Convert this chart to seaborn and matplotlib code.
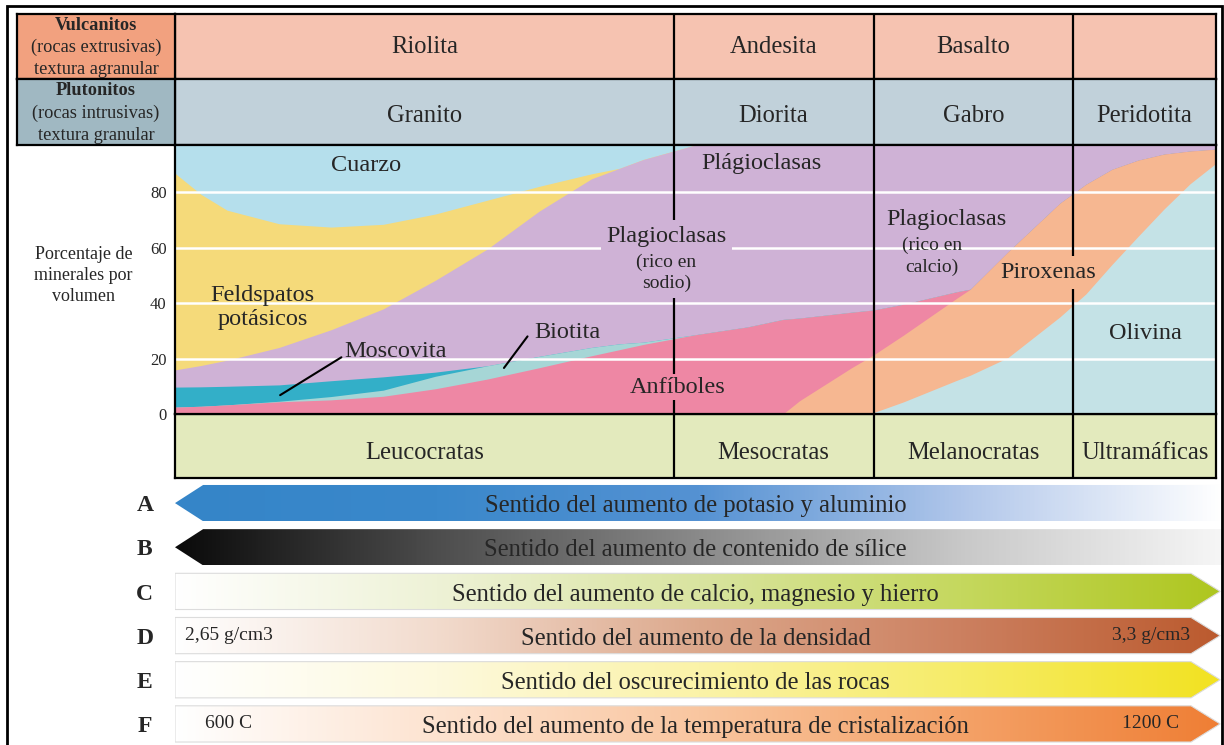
import numpy as np
import matplotlib.pyplot as plt
import seaborn as sns
from matplotlib.patches import Polygon, Rectangle

# posición a lo largo del diagrama (0 = izquierda, 100 = derecha)
posicion = [0, 2.5, 5, 10, 15, 20, 25, 30, 35, 40, 42.7, 45, 50, 55, 58.4,
            60, 65, 67.1, 70, 75, 76.4, 80, 85, 87.5, 90, 92.5, 95, 97.5, 100]

# límite superior acumulado (% en volumen) de cada mineral, de abajo arriba
olivina = [0, 0, 0, 0, 0, 0, 0, 0, 0, 0, 0, 0, 0, 0, 0,
           0, 0, 0.5, 4.4, 12, 14, 20.3, 35, 43.3, 53.9, 64, 73.9, 83, 90.4]
piroxenas = [0, 0, 0, 0, 0, 0, 0, 0, 0, 0, 0, 0, 0, 0, 0,
             4.8, 16.7, 21.3, 28.5, 41.5, 45, 58.4, 76, 82.8, 88.2, 91.5, 93.7, 94.8, 95.5]
anfiboles = [2.5, 2.8, 3.3, 4.4, 5.1, 6.4, 9.1, 12.6, 16.7, 21, 23.2, 25.1, 28.6, 31.4, 34.1,
             34.6, 36.7, 37.5, 39.6, 44, 45, 58.4, 76, 82.8, 88.2, 91.5, 93.7, 94.8, 95.5]
biotita = [2.5, 2.8, 3.3, 4.6, 6.3, 8.6, 13.6, 17.4, 20.8, 24, 25.3, 25.9, 28.6, 31.4, 34.1,
           34.6, 36.7, 37.5, 39.6, 44, 45, 58.4, 76, 82.8, 88.2, 91.5, 93.7, 94.8, 95.5]
moscovita = [9.7, 9.8, 10, 10.5, 12, 13.4, 15.1, 17.4, 20.8, 24, 25.3, 25.9, 28.6, 31.4, 34.1,
             34.6, 36.7, 37.5, 39.6, 44, 45, 58.4, 76, 82.8, 88.2, 91.5, 93.7, 94.8, 95.5]
plagioclasas = [15.9, 17.5, 19.4, 24, 30.4, 37.9, 48.2, 59.5, 73.2, 84.8, 88.6, 91.8, 97, 97, 97,
                97, 97, 97, 97, 97, 97, 97, 97, 97, 97, 97, 97, 97, 97]
feldspatos = [86.8, 79.2, 73.5, 68.6, 67.4, 68.4, 72.1, 77.1, 82.1, 86.6, 88.6, 91.8, 97, 97, 97,
              97, 97, 97, 97, 97, 97, 97, 97, 97, 97, 97, 97, 97, 97]
cuarzo = [97, 97, 97, 97, 97, 97, 97, 97, 97, 97, 97, 97, 97, 97, 97,
          97, 97, 97, 97, 97, 97, 97, 97, 97, 97, 97, 97, 97, 97]

colores_min = ["#c4e2e6", "#f6b791", "#ee87a4", "#a6d6d6", "#33afc8",
               "#cfb2d6", "#f5da7a", "#b5dfec"]

# columnas de la tabla
limites = [0, 47.9, 67.1, 86.3, 100]
vulcanitos = ["Riolita", "Andesita", "Basalto", ""]
plutonitos = ["Granito", "Diorita", "Gabro", "Peridotita"]
clases = ["Leucocratas", "Mesocratas", "Melanocratas", "Ultramáficas"]
ticks_y = [0, 20, 40, 60, 80]

# flechas inferiores
letras = ["A", "B", "C", "D", "E", "F"]
textos_flecha = ["Sentido del aumento de potasio y aluminio",
                 "Sentido del aumento de contenido de sílice",
                 "Sentido del aumento de calcio, magnesio y hierro",
                 "Sentido del aumento de la densidad",
                 "Sentido del oscurecimiento de las rocas",
                 "Sentido del aumento de la temperatura de cristalización"]
sentidos = ["izq", "izq", "der", "der", "der", "der"]
degradados = [["#3585c8", "#3a88cb", "#5592d3", "#b0c6ea", "#ffffff"],
              ["#0a0a0a", "#4d4d4d", "#8a8a8a", "#c8c8c8", "#f6f6f6"],
              ["#ffffff", "#eef2d6", "#d9e4a0", "#c5d85e", "#aec61e"],
              ["#ffffff", "#f2dbcd", "#dca88c", "#cc8060", "#bb5a2e"],
              ["#ffffff", "#fdf9dd", "#fbf3a8", "#f6ec68", "#f2e220"],
              ["#ffffff", "#fde3d0", "#f9c6a0", "#f4a268", "#ef7e34"]]

sns.set_theme(style="white")
plt.rcParams['font.family'] = ['Liberation Serif', 'DejaVu Serif']
plt.rcParams['axes.linewidth'] = 1.6
plt.rcParams['axes.edgecolor'] = 'black'

W, H = 1224, 745
fig = plt.figure(figsize=(W / 100, H / 100), dpi=100)
fig.patch.set_facecolor('white')


def caja(x0, y0, x1, y1):
    return [x0 / W, 1 - y1 / H, (x1 - x0) / W, (y1 - y0) / H]


centros = [(a + b) / 2 for a, b in zip(limites[:-1], limites[1:])]


def fila(rect, nombres, color, ytxt):
    a = fig.add_axes(rect)
    a.set_facecolor(color)
    a.set_xlim(0, 100)
    a.set_ylim(0, 1)
    a.set_xticks([])
    a.set_yticks([])
    for b in limites[1:-1]:
        a.axvline(b, color='black', lw=1.6)
    for c, n in zip(centros, nombres):
        a.text(c, ytxt, n, ha='center', va='center', fontsize=17.7)
    return a


def celda(rect, color, lineas):
    a = fig.add_axes(rect)
    a.set_facecolor(color)
    a.set_xticks([])
    a.set_yticks([])
    for (t, peso), y in zip(lineas, [0.83, 0.48, 0.15]):
        a.text(0.5, y, t, ha='center', va='center', fontsize=13.2, fontweight=peso)


fila(caja(175, 14, 1216, 79), vulcanitos, "#f6c3b1", 0.485)
fila(caja(175, 79, 1216, 145), plutonitos, "#c1d1da", 0.44)
fila(caja(175, 414, 1216, 478), clases, "#e3eabd", 0.39)
celda(caja(17, 14, 175, 79), "#f2a17f",
      [("Vulcanitos", "bold"), ("(rocas extrusivas)", "normal"), ("textura agranular", "normal")])
celda(caja(17, 79, 175, 145), "#a0b8c2",
      [("Plutonitos", "bold"), ("(rocas intrusivas)", "normal"), ("textura granular", "normal")])

# diagrama de porcentajes: cada capa se pinta desde 0 hasta su límite,
# de la más alta a la más baja, para que no queden juntas visibles
ax = fig.add_axes(caja(175, 145, 1216, 414))
capas = [olivina, piroxenas, anfiboles, biotita, moscovita, plagioclasas, feldspatos, cuarzo]
for tope, col in reversed(list(zip(capas, colores_min))):
    ax.fill_between(posicion, 0, tope, facecolor=col, lw=0, zorder=1)
for y in ticks_y[1:]:
    ax.axhline(y, color='white', lw=1.8, zorder=2)
ax.axvline(limites[1], color='black', lw=1.6, zorder=3)
ax.axvline(limites[2], color='black', lw=1.6, zorder=3)
# la línea de la última columna se corta donde está el rótulo "Piroxenas"
ax.vlines([limites[3], limites[3]], [0, 56.8], [45.2, 97], color='black', lw=1.6, zorder=3)
ax.set_xlim(0, 100)
ax.set_ylim(0, 97)
ax.set_xticks([])
ax.set_yticks(ticks_y)
ax.set_yticklabels([str(t) for t in ticks_y], fontsize=12)
ax.tick_params(axis='y', length=0, pad=6)
ax.set_ylabel("Porcentaje de\nminerales por\nvolumen", rotation=0, fontsize=13,
              linespacing=1.3, ha='center', va='center')
ax.yaxis.set_label_coords(-0.088, 0.515)

etq = dict(ha='center', va='center', fontsize=17.5, zorder=5)
ax.text(18.4, 89.7, "Cuarzo", **etq)
ax.text(8.4, 38.4, "Feldspatos\npotásicos", linespacing=1.2, **etq)
ax.text(56.3, 90.5, "Plágioclasas", **etq)
ax.text(47.2, 64.1, "Plagioclasas",
        bbox=dict(fc=colores_min[5], ec='none', pad=4), **etq)
ax.text(47.2, 50.8, "(rico en\nsodio)", ha='center', va='center', fontsize=14,
        linespacing=1.3, zorder=4, bbox=dict(fc=colores_min[5], ec='none', pad=4))
ax.text(74.1, 70.3, "Plagioclasas", **etq)
ax.text(72.7, 56.9, "(rico en\ncalcio)", ha='center', va='center', fontsize=14,
        linespacing=1.3, zorder=5)
ax.text(83.9, 51.2, "Piroxenas", **etq)
ax.text(93.2, 29.2, "Olivina", **etq)
ax.text(48.3, 9.7, "Anfíboles", bbox=dict(fc=colores_min[2], ec='none', pad=2), **etq)
ax.annotate("Moscovita", xy=(10.1, 6.8), xytext=(16.3, 22.7), ha='left', va='center',
            fontsize=17.5, zorder=5,
            arrowprops=dict(arrowstyle='-', color='black', lw=1.5, shrinkA=0, shrinkB=0,
                            relpos=(0, 0.3)))
ax.annotate("Biotita", xy=(31.6, 16.6), xytext=(34.5, 29.5), ha='left', va='center',
            fontsize=17.5, zorder=5,
            arrowprops=dict(arrowstyle='-', color='black', lw=1.5, shrinkA=0, shrinkB=0,
                            relpos=(-0.1, 0.3)))

# flechas de tendencias
af = fig.add_axes(caja(175, 481, 1224, 746))
x_fin = (1224 - 175) / 10.41
for i, (letra, texto, sentido, cols) in enumerate(zip(letras, textos_flecha, sentidos, degradados)):
    c = i + 0.5
    h = 0.41
    if sentido == "izq":
        verts = [(0, c), (2.7, c - h), (100.6, c - h), (100.6, c + h), (2.7, c + h)]
        borde = 'none'
    else:
        verts = [(0, c - h), (97.6, c - h), (100.4, c), (97.6, c + h), (0, c + h)]
        borde = '#dcdcdc'
    poly = Polygon(verts, closed=True, fc='none', ec=borde, lw=0.8, zorder=2)
    af.add_patch(poly)
    cmap = sns.blend_palette(cols, as_cmap=True)
    im = af.imshow(np.linspace(0, 1, 512)[None, :], cmap=cmap, aspect='auto',
                   extent=[0, 100.6, c + h, c - h], zorder=1)
    im.set_clip_path(poly)
    af.text(-2.9, c + 0.06, letra, ha='center', va='center', fontsize=17, fontweight='bold')
    af.text(50, c + 0.07, texto, ha='center', va='center', fontsize=17.7, zorder=3)
af.text(1, 3.5, "2,65 g/cm3", ha='left', va='center', fontsize=14, zorder=3)
af.text(97.5, 3.5, "3,3 g/cm3", ha='right', va='center', fontsize=14, zorder=3)
af.text(2.9, 5.5, "600 C", ha='left', va='center', fontsize=14, zorder=3)
af.text(96.5, 5.5, "1200 C", ha='right', va='center', fontsize=14, zorder=3)
af.set_xlim(0, x_fin)
af.set_ylim(6, 0)
af.axis('off')

# marco exterior
fig.add_artist(Rectangle((7 / W, -0.01), (1222 - 7) / W, 1.01 - 6 / H,
                         transform=fig.transFigure, fill=False, ec='black', lw=2))

fig.savefig("out.png", dpi=100)
